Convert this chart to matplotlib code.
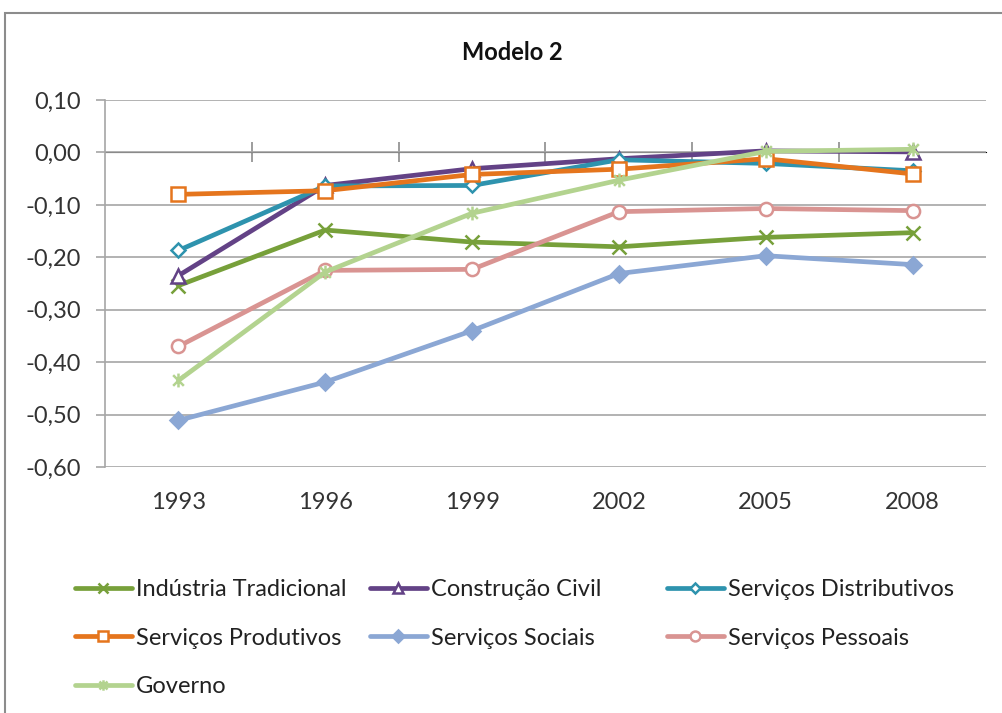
import matplotlib.pyplot as plt
from matplotlib.path import Path
from matplotlib.patches import Rectangle

plt.rcParams['font.family'] = 'Lato'

anos = ['1993', '1996', '1999', '2002', '2005', '2008']

industria_tradicional = [-0.254, -0.148, -0.171, -0.180, -0.162, -0.153]
construcao_civil = [-0.235, -0.063, -0.031, -0.012, 0.003, 0.001]
servicos_distributivos = [-0.187, -0.064, -0.063, -0.014, -0.021, -0.035]
servicos_produtivos = [-0.080, -0.073, -0.042, -0.032, -0.012, -0.041]
servicos_sociais = [-0.511, -0.438, -0.340, -0.231, -0.197, -0.214]
servicos_pessoais = [-0.370, -0.225, -0.223, -0.113, -0.107, -0.111]
governo = [-0.435, -0.228, -0.116, -0.053, 0.002, 0.006]

y_ticks = [0.10, 0.00, -0.10, -0.20, -0.30, -0.40, -0.50, -0.60]

# asterisk marker: an x crossed by a vertical bar
asterisco = Path([(-1, -1), (1, 1), (-1, 1), (1, -1), (0, -1.3), (0, 1.3)],
                 [Path.MOVETO, Path.LINETO, Path.MOVETO, Path.LINETO, Path.MOVETO, Path.LINETO])

series = [
    ('Indústria Tradicional', industria_tradicional, '#77A03A', 'x', '#77A03A', 10),
    ('Construção Civil', construcao_civil, '#634286', '^', 'white', 9.5),
    ('Serviços Distributivos', servicos_distributivos, '#2E93AE', 'D', 'white', 7),
    ('Serviços Produtivos', servicos_produtivos, '#E5751D', 's', 'white', 9.5),
    ('Serviços Sociais', servicos_sociais, '#8BA7D4', 'D', '#8BA7D4', 8),
    ('Serviços Pessoais', servicos_pessoais, '#D99492', 'o', 'white', 9.5),
    ('Governo', governo, '#B3D38F', asterisco, 'none', 10),
]

fig = plt.figure(figsize=(10.02, 7.13), dpi=100)
fig.patches.append(Rectangle((5 / 1002, -0.05), 1.1, 1 - 13 / 713 + 0.05, transform=fig.transFigure,
                             fill=False, edgecolor='#8C8C8C', linewidth=1.5))

ax = fig.add_axes([105 / 1002, 1 - 467 / 713, (986 - 105) / 1002, (467 - 100) / 713])
x = list(range(len(anos)))

handles = {}
for nome, valores, cor, marcador, face, ms in series:
    linha, = ax.plot(x, valores, color=cor, linewidth=3.4, marker=marcador, markersize=ms,
                     markerfacecolor=face, markeredgecolor=cor, markeredgewidth=1.8,
                     label=nome, solid_capstyle='round')
    handles[nome] = linha

ax.set_xlim(-0.5, len(anos) - 0.5)
ax.set_ylim(-0.60, 0.10)
ax.set_yticks(y_ticks)
ax.set_yticklabels([('%.2f' % v).replace('.', ',') for v in y_ticks])
ax.yaxis.grid(True, color='#A6A6A6', linewidth=1.2)
ax.set_axisbelow(True)

ax.set_xticks(x)
ax.set_xticklabels(anos)
ax.tick_params(axis='x', length=0, pad=18, labelsize=17, labelcolor='#333333')
ax.tick_params(axis='y', length=6.5, width=1.2, color='#A6A6A6', labelsize=17, pad=11,
               labelcolor='#333333')

for lado in ['top', 'right', 'bottom']:
    ax.spines[lado].set_visible(False)
ax.spines['left'].set_color('#A6A6A6')
ax.spines['left'].set_linewidth(1.2)

# category axis crosses at zero, with tick marks between categories
ymin, ymax = ax.get_ylim()
eixo = ax.secondary_xaxis((0 - ymin) / (ymax - ymin))
eixo.set_xticks([i + 0.5 for i in range(len(anos) - 1)])
eixo.set_xticklabels([])
eixo.tick_params(direction='inout', length=14, color='#8C8C8C', width=1.2)
eixo.spines['bottom'].set_color('#A6A6A6')
eixo.spines['bottom'].set_linewidth(1.2)

fig.text(512 / 1002, 1 - 53 / 713, 'Modelo 2', ha='center', va='center', fontsize=17,
         fontweight='bold', color='#111111')

colunas = [
    (75, ['Indústria Tradicional', 'Serviços Produtivos', 'Governo']),
    (370, ['Construção Civil', 'Serviços Sociais']),
    (667, ['Serviços Distributivos', 'Serviços Pessoais']),
]
for xpos, nomes in colunas:
    fig.legend([handles[n] for n in nomes], nomes, loc='upper left',
               bbox_to_anchor=(xpos / 1002, 1 - 579 / 713), frameon=False,
               fontsize=17, handlelength=2.4, handletextpad=0.18, labelspacing=1.17,
               borderaxespad=0, borderpad=0, markerscale=0.75, labelcolor='#222222')

fig.savefig('out.png', dpi=100)
